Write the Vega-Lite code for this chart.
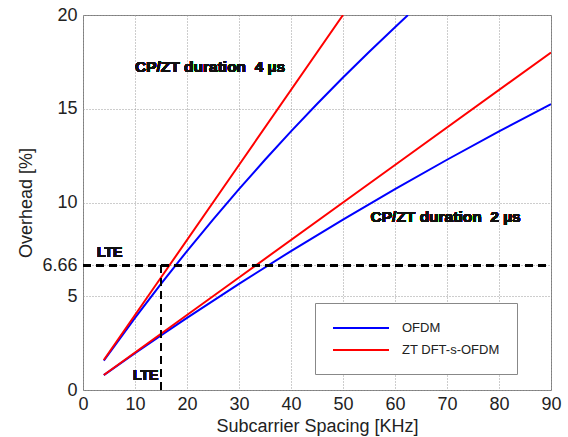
{
  "$schema": "https://vega.github.io/schema/vega-lite/v6.json",
  "width": 468,
  "height": 375,
  "autosize": "none",
  "padding": {"left": 83, "top": 15, "right": 17, "bottom": 47},
  "background": "white",
  "config": {
    "view": {"stroke": "#7f7f7f", "strokeWidth": 1},
    "axis": {
      "labelFont": "Liberation Sans",
      "labelFontSize": 18,
      "labelColor": "#222",
      "titleFont": "Liberation Sans",
      "titleFontSize": 18,
      "titleFontWeight": "normal",
      "titleColor": "#222",
      "ticks": false,
      "domain": false,
      "grid": true,
      "gridColor": "#9a9a9a",
      "gridDash": [1, 2],
      "gridWidth": 1,
      "labelFlush": false
    }
  },
  "data": {
    "values": [
      {"x": 4, "y": 1.57, "series": "OFDM 4", "scheme": "OFDM"},
      {"x": 10, "y": 3.85, "series": "OFDM 4", "scheme": "OFDM"},
      {"x": 15, "y": 5.66, "series": "OFDM 4", "scheme": "OFDM"},
      {"x": 20, "y": 7.41, "series": "OFDM 4", "scheme": "OFDM"},
      {"x": 25, "y": 9.09, "series": "OFDM 4", "scheme": "OFDM"},
      {"x": 30, "y": 10.71, "series": "OFDM 4", "scheme": "OFDM"},
      {"x": 35, "y": 12.28, "series": "OFDM 4", "scheme": "OFDM"},
      {"x": 40, "y": 13.79, "series": "OFDM 4", "scheme": "OFDM"},
      {"x": 45, "y": 15.25, "series": "OFDM 4", "scheme": "OFDM"},
      {"x": 50, "y": 16.67, "series": "OFDM 4", "scheme": "OFDM"},
      {"x": 55, "y": 18.03, "series": "OFDM 4", "scheme": "OFDM"},
      {"x": 60, "y": 19.35, "series": "OFDM 4", "scheme": "OFDM"},
      {"x": 62.5, "y": 20.0, "series": "OFDM 4", "scheme": "OFDM"},
      {"x": 4, "y": 1.6, "series": "ZT 4", "scheme": "ZT DFT-s-OFDM"},
      {"x": 15, "y": 6.0, "series": "ZT 4", "scheme": "ZT DFT-s-OFDM"},
      {"x": 30, "y": 12.0, "series": "ZT 4", "scheme": "ZT DFT-s-OFDM"},
      {"x": 50, "y": 20.0, "series": "ZT 4", "scheme": "ZT DFT-s-OFDM"},
      {"x": 4, "y": 0.79, "series": "OFDM 2", "scheme": "OFDM"},
      {"x": 10, "y": 1.96, "series": "OFDM 2", "scheme": "OFDM"},
      {"x": 15, "y": 2.91, "series": "OFDM 2", "scheme": "OFDM"},
      {"x": 20, "y": 3.85, "series": "OFDM 2", "scheme": "OFDM"},
      {"x": 30, "y": 5.66, "series": "OFDM 2", "scheme": "OFDM"},
      {"x": 40, "y": 7.41, "series": "OFDM 2", "scheme": "OFDM"},
      {"x": 50, "y": 9.09, "series": "OFDM 2", "scheme": "OFDM"},
      {"x": 60, "y": 10.71, "series": "OFDM 2", "scheme": "OFDM"},
      {"x": 70, "y": 12.28, "series": "OFDM 2", "scheme": "OFDM"},
      {"x": 80, "y": 13.79, "series": "OFDM 2", "scheme": "OFDM"},
      {"x": 90, "y": 15.25, "series": "OFDM 2", "scheme": "OFDM"},
      {"x": 4, "y": 0.8, "series": "ZT 2", "scheme": "ZT DFT-s-OFDM"},
      {"x": 30, "y": 6.0, "series": "ZT 2", "scheme": "ZT DFT-s-OFDM"},
      {"x": 60, "y": 12.0, "series": "ZT 2", "scheme": "ZT DFT-s-OFDM"},
      {"x": 90, "y": 18.0, "series": "ZT 2", "scheme": "ZT DFT-s-OFDM"}
    ]
  },
  "layer": [
    {
      "mark": {"type": "line", "strokeWidth": 2, "clip": true},
      "encoding": {
        "x": {
          "field": "x", "type": "quantitative",
          "scale": {"domain": [0, 90], "nice": false},
          "axis": {"values": [0, 10, 20, 30, 40, 50, 60, 70, 80, 90], "title": "Subcarrier Spacing [KHz]", "labelPadding": 5, "titlePadding": 4}
        },
        "y": {
          "field": "y", "type": "quantitative",
          "scale": {"domain": [0, 20], "nice": false},
          "axis": {"values": [0, 5, 6.66, 10, 15, 20], "format": ".2~f", "title": "Overhead [%]", "labelPadding": 6, "titlePadding": 6}
        },
        "color": {
          "field": "scheme", "type": "nominal",
          "scale": {"domain": ["OFDM", "ZT DFT-s-OFDM"], "range": ["#0000ff", "#ff0000"]},
          "legend": {
            "title": null,
            "orient": "none",
            "legendX": 232,
            "legendY": 288,
            "symbolType": "M-1,0H7",
            "symbolSize": 196,
            "symbolStrokeWidth": 2,
            "symbolFillColor": "transparent",
            "labelFont": "Liberation Sans",
            "labelFontSize": 13,
            "labelColor": "#222",
            "labelOffset": 54,
            "padding": 17,
            "rowPadding": 7,
            "strokeColor": "#888",
            "fillColor": "white"
          }
        },
        "detail": {"field": "series", "type": "nominal"}
      }
    },
    {
      "mark": {"type": "rule", "color": "black", "strokeWidth": 2, "strokeDash": [8, 5]},
      "encoding": {
        "x": {"datum": 0},
        "x2": {"datum": 90},
        "y": {"datum": 6.66}
      }
    },
    {
      "mark": {"type": "rule", "color": "black", "strokeWidth": 2, "strokeDash": [8, 5]},
      "encoding": {
        "x": {"datum": 15},
        "y": {"datum": 0},
        "y2": {"datum": 6.66}
      }
    },
    {
      "mark": {"type": "text", "font": "Liberation Sans", "fontWeight": "bold", "fontSize": 15.5, "align": "left", "baseline": "middle", "color": "#111"},
      "encoding": {"x": {"datum": 10}, "y": {"datum": 17.25}, "text": {"value": "CP/ZT duration\u00a0 4 µs"}}
    },
    {
      "mark": {"type": "text", "font": "Liberation Sans", "fontWeight": "bold", "fontSize": 15.5, "align": "left", "baseline": "middle", "color": "#111"},
      "encoding": {"x": {"datum": 55.3}, "y": {"datum": 9.25}, "text": {"value": "CP/ZT duration\u00a0 2 µs"}}
    },
    {
      "mark": {"type": "text", "font": "Liberation Sans", "fontWeight": "bold", "fontSize": 14, "align": "left", "baseline": "middle", "color": "#111"},
      "encoding": {"x": {"datum": 2.7}, "y": {"datum": 7.3}, "text": {"value": "LTE"}}
    },
    {
      "mark": {"type": "text", "font": "Liberation Sans", "fontWeight": "bold", "fontSize": 14, "align": "left", "baseline": "middle", "color": "#111"},
      "encoding": {"x": {"datum": 9.6}, "y": {"datum": 0.75}, "text": {"value": "LTE"}}
    }
  ]
}
